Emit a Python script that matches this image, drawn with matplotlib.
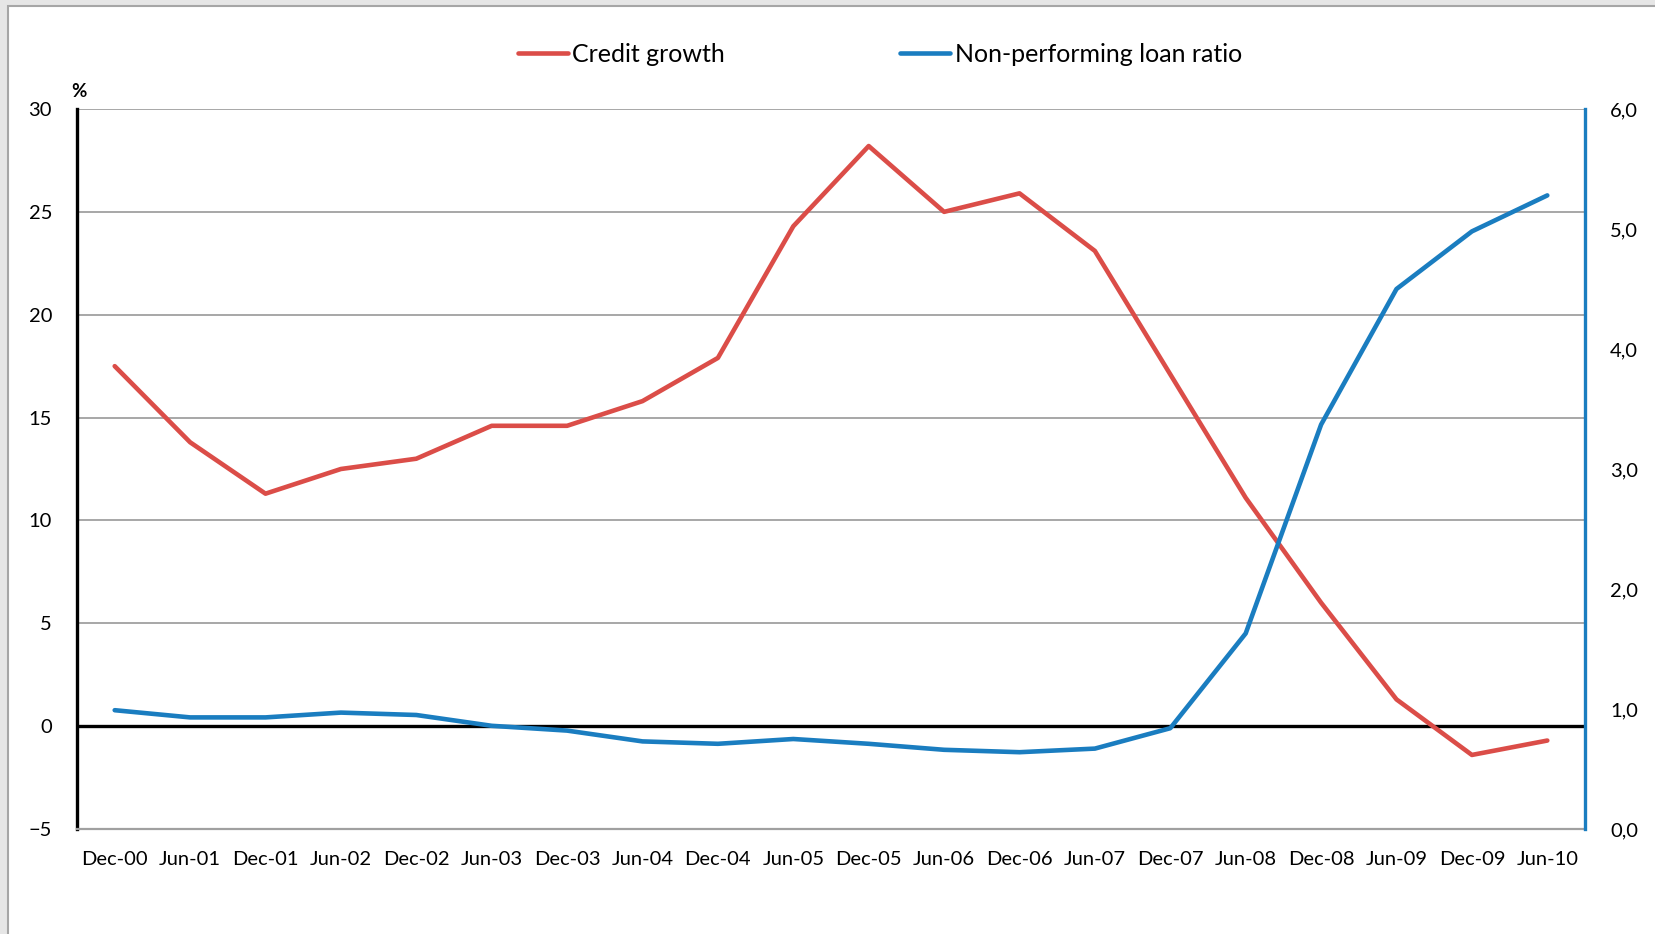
import matplotlib
matplotlib.use("Agg")
import matplotlib.pyplot as plt
from matplotlib.patches import Rectangle

categories = ["Dec-00", "Jun-01", "Dec-01", "Jun-02", "Dec-02", "Jun-03", "Dec-03",
              "Jun-04", "Dec-04", "Jun-05", "Dec-05", "Jun-06", "Dec-06", "Jun-07",
              "Dec-07", "Jun-08", "Dec-08", "Jun-09", "Dec-09", "Jun-10"]
credit_growth = [17.5, 13.8, 11.3, 12.5, 13.0, 14.6, 14.6, 15.8, 17.9, 24.3,
                 28.2, 25.0, 25.9, 23.1, 17.1, 11.1, 6.0, 1.3, -1.4, -0.7]
npl_ratio = [0.99, 0.93, 0.93, 0.97, 0.95, 0.86, 0.82, 0.73, 0.71, 0.75,
             0.71, 0.66, 0.64, 0.67, 0.84, 1.63, 3.37, 4.50, 4.98, 5.28]
left_ticks = [-5, 0, 5, 10, 15, 20, 25, 30]
right_ticks = [0, 1, 2, 3, 4, 5, 6]
right_labels = ["0,0", "1,0", "2,0", "3,0", "4,0", "5,0", "6,0"]

RED = "#DB4D48"
BLUE = "#1A7DC0"
GRID = "#A0A0A0"

plt.rcParams["font.family"] = ["Lato", "DejaVu Sans"]

W, H = 1655, 934
fig = plt.figure(figsize=(W / 100, H / 100), dpi=100)
fig.patch.set_facecolor("#E6E6E6")
bg = Rectangle((8 / W, -0.05), 1.1, 1 - 6 / H + 0.05,
               transform=fig.transFigure, facecolor="white",
               edgecolor="#A6A6A6", linewidth=1.5, zorder=-10)
fig.add_artist(bg)

ax = fig.add_axes([77 / W, (H - 829) / H, (1585 - 77) / W, (829 - 109) / H])
ax.set_facecolor("none")
x = list(range(len(categories)))

ax.set_xlim(-0.5, len(categories) - 0.5)
ax.set_ylim(-5, 30)
ax.set_yticks(left_ticks)
ax.set_xticks(x)
ax.set_xticklabels(categories)
ax.tick_params(axis="both", length=0, labelsize=14.5, colors="black")
ax.tick_params(axis="y", pad=18)
ax.tick_params(axis="x", pad=16)

for t in left_ticks:
    if t not in (-5, 0):
        ax.axhline(t, color=GRID, lw=1.3, zorder=1)
ax.axhline(0, color="black", lw=2.4, zorder=2)

ax.spines["left"].set_color("black")
ax.spines["left"].set_linewidth(2.4)
ax.spines["bottom"].set_color(GRID)
ax.spines["bottom"].set_linewidth(1.6)
ax.spines["top"].set_visible(False)
ax.spines["right"].set_visible(False)

l1, = ax.plot(x, credit_growth, color=RED, lw=3.3, solid_capstyle="round",
              solid_joinstyle="round", zorder=3, label="Credit growth")

ax2 = ax.twinx()
ax2.set_ylim(0, 6)
ax2.set_yticks(right_ticks)
ax2.set_yticklabels(right_labels)
ax2.tick_params(axis="y", length=0, labelsize=14.5, pad=18)
for s in ["left", "top", "bottom"]:
    ax2.spines[s].set_visible(False)
ax2.spines["right"].set_color(BLUE)
ax2.spines["right"].set_linewidth(2.4)
l2, = ax2.plot(x, npl_ratio, color=BLUE, lw=3.3, solid_capstyle="round",
               solid_joinstyle="round", zorder=3, label="Non-performing loan ratio")

ax.text(-0.004, 1.012, "%", transform=ax.transAxes, fontsize=13.5,
        fontweight="bold", ha="left", va="bottom")

fig.legend([l1, l2], ["Credit growth", "Non-performing loan ratio"],
           loc="center", bbox_to_anchor=(880 / W, 1 - 54 / H), ncol=2,
           frameon=False, fontsize=18, handlelength=2.0, handletextpad=0.2,
           columnspacing=7.0)

fig.savefig("out.png", dpi=100, facecolor=fig.get_facecolor())
